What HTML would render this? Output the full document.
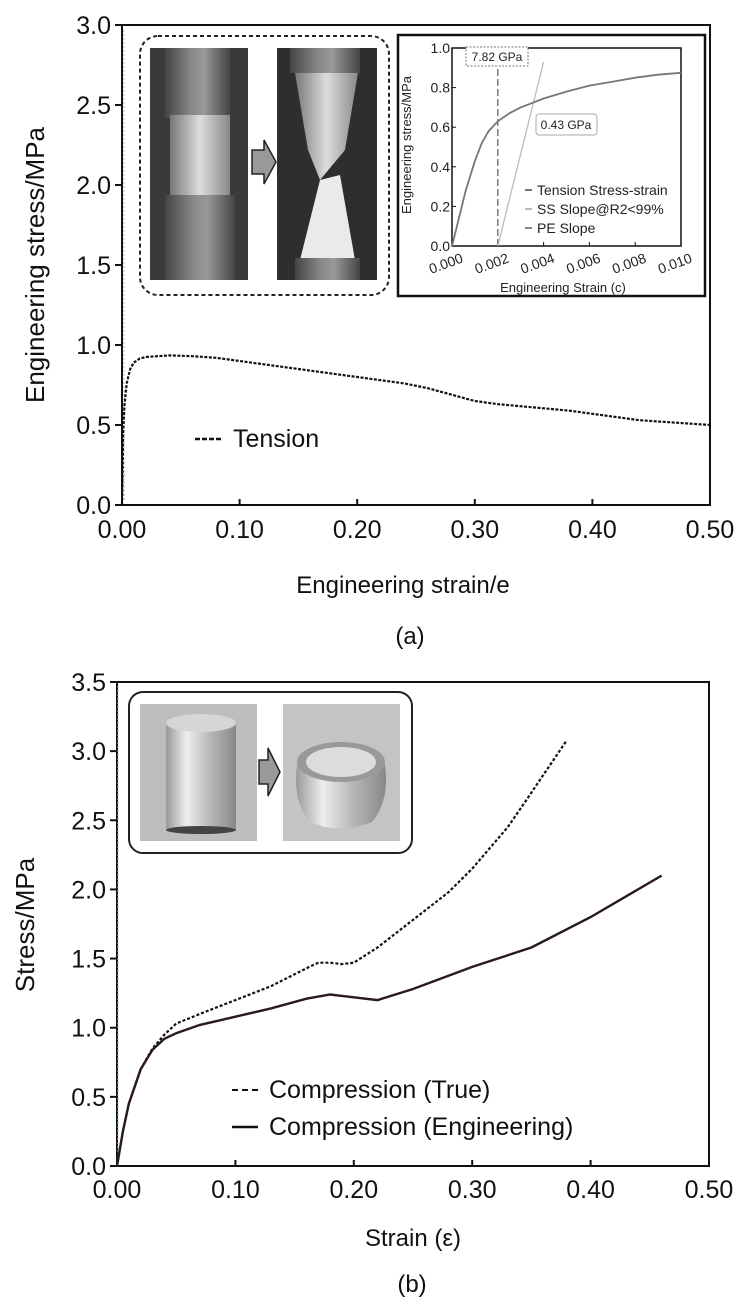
<!DOCTYPE html>
<html><head><meta charset="utf-8"><style>
body{margin:0;background:#fff;}
svg{display:block;font-family:"Liberation Sans",Arial,sans-serif;}
</style></head><body>
<svg id="fig" width="754" height="1311" viewBox="0 0 754 1311" xmlns="http://www.w3.org/2000/svg">
<defs>
<linearGradient id="metal" x1="0" x2="1"><stop offset="0" stop-color="#444"/><stop offset="0.4" stop-color="#888"/><stop offset="0.6" stop-color="#999"/><stop offset="1" stop-color="#444"/></linearGradient>
<linearGradient id="bright" x1="0" x2="1"><stop offset="0" stop-color="#777"/><stop offset="0.5" stop-color="#ddd"/><stop offset="1" stop-color="#888"/></linearGradient>
<linearGradient id="cyl" x1="0" x2="1"><stop offset="0" stop-color="#999"/><stop offset="0.3" stop-color="#eee"/><stop offset="0.6" stop-color="#bbb"/><stop offset="1" stop-color="#888"/></linearGradient>
</defs>
<g id="chartA"></g>
<g id="chartB"></g>
</svg>
<script>
const NS="http://www.w3.org/2000/svg";
// ---------- data ----------
const tensionX=[0,0.001,0.002,0.004,0.007,0.01,0.015,0.02,0.03,0.04,0.06,0.08,0.10,0.12,0.15,0.18,0.20,0.22,0.24,0.26,0.28,0.30,0.32,0.35,0.38,0.40,0.42,0.44,0.46,0.48,0.50];
const tensionY=[0,0.45,0.62,0.76,0.85,0.89,0.915,0.925,0.93,0.935,0.93,0.92,0.90,0.88,0.85,0.82,0.80,0.78,0.76,0.73,0.69,0.65,0.63,0.61,0.59,0.57,0.55,0.53,0.52,0.51,0.50];
const insetX=[0,0.0003,0.0006,0.001,0.0013,0.0016,0.002,0.0025,0.003,0.004,0.005,0.006,0.007,0.008,0.009,0.01];
const insetY=[0,0.14,0.28,0.43,0.52,0.58,0.63,0.67,0.70,0.745,0.78,0.81,0.83,0.85,0.865,0.875];
const peSlopeX=[0.002,0.002];const peSlopeY=[0,0.92];
const ssSlopeX=[0.002,0.004];const ssSlopeY=[0,0.93];
const compX=[0,0.005,0.01,0.02,0.03,0.04,0.05,0.07,0.10,0.13,0.16,0.17,0.18,0.19,0.20,0.22,0.25,0.28,0.30,0.33,0.35,0.38];
const compTrueY=[0,0.25,0.45,0.7,0.85,0.95,1.03,1.1,1.2,1.3,1.43,1.47,1.47,1.46,1.47,1.58,1.78,1.98,2.15,2.45,2.7,3.08];
const engX=[0,0.005,0.01,0.02,0.03,0.04,0.05,0.07,0.10,0.13,0.16,0.18,0.19,0.20,0.22,0.25,0.30,0.35,0.40,0.44,0.46];
const engY=[0,0.25,0.45,0.7,0.84,0.92,0.96,1.02,1.08,1.14,1.21,1.24,1.23,1.22,1.20,1.28,1.44,1.58,1.80,2.0,2.1];
const xTicks=[0,0.1,0.2,0.3,0.4,0.5];
const xTickLabels=["0.00","0.10","0.20","0.30","0.40","0.50"];
const yTicksA=[0,0.5,1,1.5,2,2.5,3];
const yTicksB=[0,0.5,1,1.5,2,2.5,3,3.5];
const insetXTicks=[0,0.002,0.004,0.006,0.008,0.01];
const insetXLabels=["0.000","0.002","0.004","0.006","0.008","0.010"];
const insetYTicks=[0,0.2,0.4,0.6,0.8,1.0];

function el(tag,attrs,parent,text){const e=document.createElementNS(NS,tag);for(const k in attrs)e.setAttribute(k,attrs[k]);if(text!==undefined)e.textContent=text;parent.appendChild(e);return e;}
function lin(d0,d1,r0,r1){return v=>r0+(v-d0)/(d1-d0)*(r1-r0);}
function path(xs,ys,sx,sy){return xs.map((x,i)=>(i?"L":"M")+sx(x).toFixed(1)+","+sy(ys[i]).toFixed(1)).join("");}

// ---------- chart A ----------
const A=document.getElementById("chartA");
const axA=lin(0,0.5,122,710), ayA=lin(0,3,505,25);
const pa=el("g",{},A);
el("rect",{x:140,y:36,width:249,height:259,rx:18,fill:"#fff",stroke:"#222","stroke-width":2,"stroke-dasharray":"4,3"},pa);
el("rect",{x:150,y:48,width:98,height:232,fill:"#3a3a3a"},pa);
el("rect",{x:165,y:48,width:65,height:70,fill:"url(#metal)"},pa);
el("rect",{x:170,y:115,width:60,height:80,fill:"url(#bright)"},pa);
el("rect",{x:165,y:195,width:70,height:85,fill:"url(#metal)"},pa);
el("rect",{x:277,y:48,width:100,height:232,fill:"#2e2e2e"},pa);
el("rect",{x:290,y:48,width:70,height:25,fill:"url(#metal)"},pa);
el("polygon",{points:"295,73 358,73 345,150 320,180 308,150",fill:"url(#bright)"},pa);
el("polygon",{points:"320,180 340,175 355,260 300,260",fill:"#eaeaea"},pa);
el("rect",{x:295,y:258,width:65,height:22,fill:"url(#metal)"},pa);
el("polygon",{points:"252,150 264,150 264,140 276,162 264,184 264,174 252,174",fill:"#999",stroke:"#222","stroke-width":1.5},pa);
// inset chart
const ic=el("g",{},A);
el("rect",{x:398,y:35,width:307,height:261,fill:"#fff",stroke:"#111","stroke-width":2.5},ic);
const ix=lin(0,0.01,452,681), iy=lin(0,1,246,48);
el("rect",{x:452,y:48,width:229,height:198,fill:"none",stroke:"#111","stroke-width":1.5},ic);
insetYTicks.forEach(t=>{el("line",{x1:452,x2:456,y1:iy(t),y2:iy(t),stroke:"#111"},ic);el("text",{x:450,y:iy(t)+5,"font-size":14,"text-anchor":"end",fill:"#222"},ic,t.toFixed(1));});
insetXTicks.forEach((t,i)=>{el("line",{x1:ix(t),x2:ix(t),y1:242,y2:246,stroke:"#111"},ic);el("text",{x:ix(t)+12,y:262,"font-size":14,"text-anchor":"end",fill:"#222",transform:`rotate(-20 ${ix(t)+12} 262)`},ic,insetXLabels[i]);});
el("text",{x:563,y:292,"font-size":13,"text-anchor":"middle",fill:"#222"},ic,"Engineering Strain (c)");
el("text",{x:0,y:0,"font-size":13,"text-anchor":"middle",fill:"#222",transform:"translate(411 145) rotate(-90)"},ic,"Engineering stress/MPa");
const pe=el("path",{d:path(peSlopeX,peSlopeY,ix,iy),stroke:"#666","stroke-width":1.3,"stroke-dasharray":"7,3",fill:"none"},ic);
const ss=el("path",{d:path(ssSlopeX,ssSlopeY,ix,iy),stroke:"#bbb","stroke-width":1.3,fill:"none"},ic);
const ts=el("path",{d:path(insetX,insetY,ix,iy),stroke:"#777","stroke-width":1.8,fill:"none"},ic);
el("rect",{x:466,y:47,width:62,height:19,fill:"#fff",stroke:"#777","stroke-dasharray":"2,1.5"},ic);
el("text",{x:497,y:61,"font-size":12,"text-anchor":"middle",fill:"#222"},ic,"7.82 GPa");
el("rect",{x:536,y:114,width:61,height:21,rx:3,fill:"#fff",stroke:"#aaa"},ic);
el("text",{x:566,y:129,"font-size":12,"text-anchor":"middle",fill:"#222"},ic,"0.43 GPa");
[["Tension Stress-strain","#777",0],["SS Slope@R2<99%","#bbb",19],["PE Slope","#888",38]].forEach(([t,c,dy])=>{el("line",{x1:525,x2:532,y1:190+dy,y2:190+dy,stroke:c,"stroke-width":2},ic);el("text",{x:537,y:195+dy,"font-size":14,fill:"#222"},ic,t);});
// axes A
el("rect",{x:122,y:25,width:588,height:480,fill:"none",stroke:"#111","stroke-width":2},A);
el("line",{x1:124,x2:124,y1:30,y2:500,stroke:"#bbb","stroke-width":1,"stroke-dasharray":"2,2"},A);
yTicksA.forEach(t=>{el("line",{x1:115,x2:122,y1:ayA(t),y2:ayA(t),stroke:"#111","stroke-width":2},A);el("text",{x:111,y:ayA(t)+9,"font-size":25,"text-anchor":"end",fill:"#111"},A,t.toFixed(1));});
xTicks.forEach((t,i)=>{el("line",{x1:axA(t),x2:axA(t),y1:499,y2:505,stroke:"#111","stroke-width":2},A);el("text",{x:axA(t),y:538,"font-size":25,"text-anchor":"middle",fill:"#111"},A,xTickLabels[i]);});
el("text",{x:403,y:593,"font-size":24,"text-anchor":"middle",fill:"#111"},A,"Engineering strain/e");
el("text",{x:0,y:0,"font-size":26,"text-anchor":"middle",fill:"#111",transform:"translate(44 265) rotate(-90)"},A,"Engineering stress/MPa");
el("text",{x:410,y:644,"font-size":24,"text-anchor":"middle",fill:"#111"},A,"(a)");
const tl=el("path",{d:path(tensionX,tensionY,axA,ayA),stroke:"#111","stroke-width":2.2,fill:"none","stroke-dasharray":"3,1.5"},A);

const lgA=el("g",{},A);
el("line",{x1:195,x2:222,y1:439,y2:439,stroke:"#111","stroke-width":2.5,"stroke-dasharray":"5,2"},lgA);
el("text",{x:233,y:447,"font-size":25,fill:"#111"},lgA,"Tension");

// ---------- chart B ----------
const B=document.getElementById("chartB");
const axB=lin(0,0.5,117,709), ayB=lin(0,3.5,1166,682);
const pb=el("g",{},B);
el("rect",{x:129,y:692,width:283,height:161,rx:14,fill:"#fff",stroke:"#222","stroke-width":2},pb);
el("rect",{x:140,y:704,width:117,height:137,fill:"#bdbdbd"},pb);
el("rect",{x:166,y:723,width:70,height:107,fill:"url(#cyl)"},pb);
el("ellipse",{cx:201,cy:723,rx:35,ry:9,fill:"#d6d6d6"},pb);
el("ellipse",{cx:201,cy:830,rx:35,ry:4,fill:"#444"},pb);
el("rect",{x:283,y:704,width:117,height:137,fill:"#c4c4c4"},pb);
el("path",{d:"M297,765 Q292,800 310,822 Q340,835 372,822 Q390,800 385,765 Z",fill:"url(#cyl)"},pb);
el("ellipse",{cx:341,cy:762,rx:44,ry:20,fill:"#999"},pb);
el("ellipse",{cx:341,cy:762,rx:35,ry:15,fill:"#dcdcdc"},pb);
el("polygon",{points:"259,760 268,760 268,748 280,772 268,796 268,784 259,784",fill:"#999",stroke:"#222","stroke-width":1.5},pb);
el("rect",{x:117,y:682,width:592,height:484,fill:"none",stroke:"#111","stroke-width":2},B);
el("line",{x1:118,x2:118,y1:686,y2:1162,stroke:"#bbb","stroke-width":1,"stroke-dasharray":"2,2"},B);
yTicksB.forEach(t=>{el("line",{x1:110,x2:117,y1:ayB(t),y2:ayB(t),stroke:"#111","stroke-width":2},B);el("text",{x:106,y:ayB(t)+9,"font-size":25,"text-anchor":"end",fill:"#111"},B,t.toFixed(1));});
xTicks.forEach((t,i)=>{el("line",{x1:axB(t),x2:axB(t),y1:1160,y2:1166,stroke:"#111","stroke-width":2},B);el("text",{x:axB(t),y:1198,"font-size":25,"text-anchor":"middle",fill:"#111"},B,xTickLabels[i]);});
el("text",{x:413,y:1246,"font-size":24,"text-anchor":"middle",fill:"#111"},B,"Strain (\u03b5)");
el("text",{x:0,y:0,"font-size":26,"text-anchor":"middle",fill:"#111",transform:"translate(34 925) rotate(-90)"},B,"Stress/MPa");
el("text",{x:412,y:1292,"font-size":24,"text-anchor":"middle",fill:"#111"},B,"(b)");
const ct=el("path",{d:path(compX,compTrueY,axB,ayB),stroke:"#111","stroke-width":2.2,fill:"none","stroke-dasharray":"3,2"},B);

const ce=el("path",{d:path(engX,engY,axB,ayB),stroke:"#2a1a1a","stroke-width":2.4,fill:"none"},B);

const lgB=el("g",{},B);
el("line",{x1:232,x2:258,y1:1090,y2:1090,stroke:"#111","stroke-width":2,"stroke-dasharray":"6,4"},lgB);
el("text",{x:269,y:1098,"font-size":25,fill:"#111"},lgB,"Compression (True)");
el("line",{x1:232,x2:258,y1:1127,y2:1127,stroke:"#111","stroke-width":2.4},lgB);
el("text",{x:269,y:1135,"font-size":25,fill:"#111"},lgB,"Compression (Engineering)");
</script>
</body></html>
